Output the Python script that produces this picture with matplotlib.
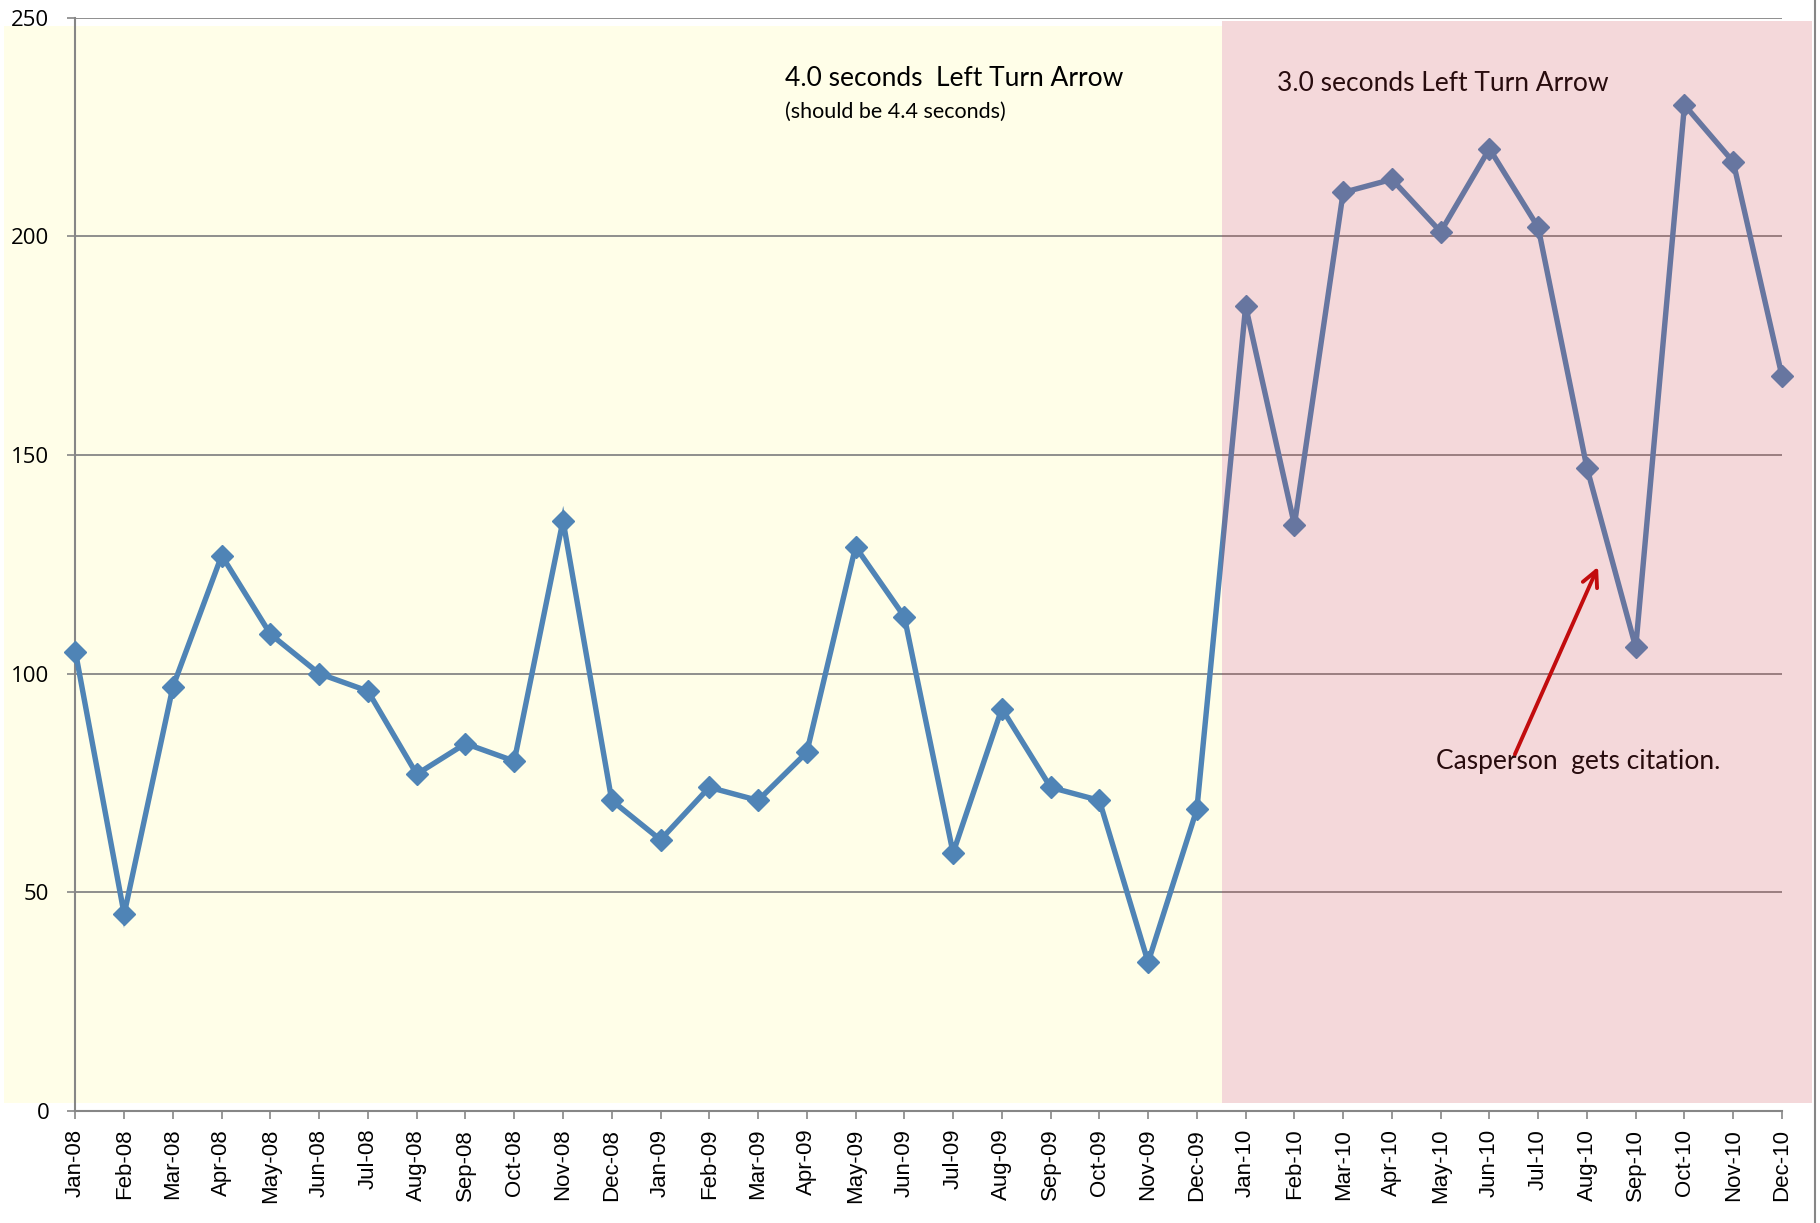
import matplotlib.pyplot as plt
from matplotlib.patches import Rectangle
from matplotlib.lines import Line2D

months = ["Jan-08", "Feb-08", "Mar-08", "Apr-08", "May-08", "Jun-08", "Jul-08", "Aug-08",
          "Sep-08", "Oct-08", "Nov-08", "Dec-08", "Jan-09", "Feb-09", "Mar-09", "Apr-09",
          "May-09", "Jun-09", "Jul-09", "Aug-09", "Sep-09", "Oct-09", "Nov-09", "Dec-09",
          "Jan-10", "Feb-10", "Mar-10", "Apr-10", "May-10", "Jun-10", "Jul-10", "Aug-10",
          "Sep-10", "Oct-10", "Nov-10", "Dec-10"]
counts = [105, 45, 97, 127, 109, 100, 96, 77, 84, 80, 135, 71,
          62, 74, 71, 82, 129, 113, 59, 92, 74, 71, 34, 69,
          184, 134, 210, 213, 201, 220, 202, 147, 106, 230, 217, 168]
yticks = [0, 50, 100, 150, 200, 250]

W, H = 1820, 1223
fig = plt.figure(figsize=(W / 100, H / 100), dpi=100)
fig.patch.set_facecolor("white")

def px(x0, y0, x1, y1):
    # figure-pixel box (from top-left) -> figure fraction rect
    return (x0 / W, 1 - y1 / H), (x1 - x0) / W, (y1 - y0) / H

# yellow background behind the axes
xy, w, h = px(4, 26, 1222, 1103)
fig.patches.append(Rectangle(xy, w, h, transform=fig.transFigure,
                             facecolor="#FFFEE8", edgecolor="none", zorder=-10))

ax = fig.add_axes([75.4 / W, 1 - 1111 / H, (1782 - 75.4) / W, (1111 - 17.5) / H])
ax.set_facecolor("none")
ax.set_zorder(0)

x = list(range(len(months)))
ax.plot(x, counts, color="#4F84B6", lw=3.9, marker="D", ms=11,
        markerfacecolor="#4F84B6", markeredgecolor="#4F84B6", zorder=3,
        solid_joinstyle="miter", clip_on=False)

ax.set_xlim(0, len(months) - 1)
ax.set_ylim(0, 250)
ax.set_yticks(yticks)
ax.set_xticks(x)
ax.set_xticklabels(months, rotation=90, fontsize=16, family="Liberation Sans")
ax.tick_params(axis="y", labelsize=16, length=5.8, width=1.2, color="#868686", pad=13)
ax.tick_params(axis="x", length=5.8, width=1.2, color="#868686", pad=7)
for lbl in ax.get_yticklabels():
    lbl.set_family("Open Sans")

ax.grid(axis="y", color="#868686", lw=1.3, zorder=1)
ax.set_axisbelow(True)
for s in ["top", "right"]:
    ax.spines[s].set_visible(False)
for s in ["left", "bottom"]:
    ax.spines[s].set_color("#868686")
    ax.spines[s].set_linewidth(1.5)

txt_font = ["Lato", "DejaVu Sans"]
ax.text(14.55, 236, "4.0 seconds  Left Turn Arrow", fontsize=19, family=txt_font,
        va="center", ha="left")
ax.text(14.55, 228.5, "(should be 4.4 seconds)", fontsize=15.5, family=txt_font,
        va="center", ha="left")
ax.text(24.65, 235, "3.0 seconds Left Turn Arrow", fontsize=19, family=txt_font,
        va="center", ha="left")
ax.text(27.9, 80, "Casperson  gets citation.", fontsize=19, family=txt_font,
        va="center", ha="left")
ax.annotate("", xy=(31.25, 125), xytext=(29.5, 81),
            arrowprops=dict(arrowstyle="->", color="#C00000", lw=2.8,
                            mutation_scale=28))

# translucent pink overlay on the right part
xy, w, h = px(1222, 21, 1812, 1103)
fig.patches.append(Rectangle(xy, w, h, transform=fig.transFigure,
                             facecolor="#CC3F48", alpha=0.2, edgecolor="none", zorder=5))

fig.lines.append(Line2D([1815 / W, 1815 / W], [0, 1], transform=fig.transFigure,
                        color="#868686", lw=1.5))

fig.savefig("out.png", dpi=100)
